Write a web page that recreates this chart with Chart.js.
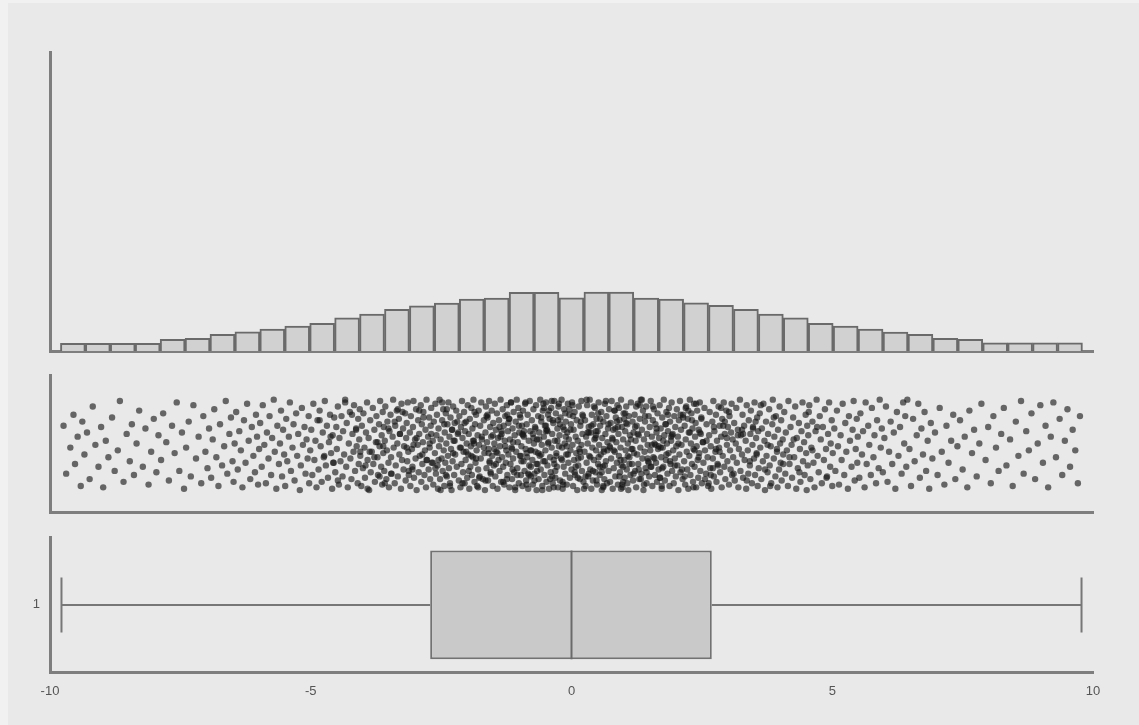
<!DOCTYPE html>
<html>
<head>
<meta charset="utf-8">
<script src="https://cdn.jsdelivr.net/npm/chart.js@4/dist/chart.umd.min.js"></script>
<style>
  body { margin: 0; background: #f1f1f1; }
  #frame { position: absolute; left: 8px; top: 3px; width: 1131px; height: 722px; background: #e9e9e9; }
  canvas { position: absolute; left: 0; }
</style>
</head>
<body>
<div id="frame"></div>
<canvas id="hist" width="1139" height="360" style="top:0"></canvas>
<canvas id="strip" width="1139" height="160" style="top:360px"></canvas>
<canvas id="box" width="1139" height="205" style="top:520px"></canvas>
<script>
// histogram: 41 bins from -9.8, width 0.478
const binStart = -9.8;
const binWidth = 0.478;
const binCounts = [31, 31, 31, 31, 47, 51, 67, 77, 88, 100, 111, 133, 148, 167, 181, 192, 208, 212, 235, 235,
    213,
    236, 236, 212, 208, 193, 183, 167, 148, 133, 111, 100, 88, 76, 67, 51, 47, 33, 33, 33, 33];

// box plot stats
const boxLabels = ['1'];
const whiskerLow = -9.78;
const q1 = -2.71;
const median = 0;
const q3 = 2.69;
const whiskerHigh = 9.78;

const xTicks = [-10, -5, 0, 5, 10];

// strip plot points: [value, jitter %]
const stripPoints = [
[-9.74,63],[-9.69,28],[-9.61,47],[-9.55,71],[-9.52,35],[-9.47,55],[-9.41,19],[-9.38,66],[-9.34,42],
[-9.29,58],[-9.24,24],[-9.18,77],[-9.13,49],[-9.07,33],[-9.02,62],[-8.98,18],[-8.93,52],[-8.88,40],
[-8.81,69],[-8.76,30],[-8.70,45],[-8.66,81],[-8.59,22],[-8.53,57],[-8.47,37],[-8.43,64],[-8.39,27],
[-8.34,50],[-8.29,74],[-8.22,33],[-8.17,61],[-8.11,20],[-8.06,44],[-8.01,68],[-7.96,29],[-7.92,56],
[-7.87,38],[-7.83,72],[-7.77,51],[-7.72,23],[-7.66,63],[-7.61,43],[-7.57,80],[-7.52,30],[-7.47,58],[-7.43,17],
[-7.39,47],[-7.34,66],[-7.30,26],[-7.25,78],[-7.20,39],[-7.15,55],[-7.10,21],[-7.06,70],[-7.02,44],[-6.98,32],[-6.95,61],
[-6.91,25],[-6.88,53],[-6.85,75],[-6.81,40],[-6.77,19],[-6.74,64],[-6.70,34],[-6.66,48],[-6.63,81],[-6.60,28],[-6.56,57],[-6.53,69],[-6.50,37],[-6.48,22],[-6.46,50],
[-6.43,73],[-6.40,31],[-6.37,59],[-6.34,45],[-6.31,18],[-6.28,67],[-6.25,36],[-6.22,79],[-6.19,52],[-6.16,24],[-6.13,62],[-6.10,41],[-6.07,29],[-6.05,71],[-6.03,55],[-6.01,20],[-5.99,46],
[-5.97,65],[-5.94,33],[-5.92,78],[-5.89,49],[-5.86,21],[-5.84,58],[-5.81,39],[-5.79,70],[-5.76,27],[-5.74,54],[-5.71,82],[-5.69,44],[-5.66,17],[-5.64,63],[-5.61,35],[-5.59,50],[-5.57,74],[-5.55,26],[-5.53,60],[-5.51,42],
[-5.49,19],[-5.47,68],[-5.45,37],[-5.42,55],[-5.40,80],[-5.38,30],[-5.35,47],[-5.33,64],[-5.31,23],[-5.28,72],[-5.26,41],[-5.24,57],[-5.21,16],[-5.19,34],[-5.17,76],[-5.15,49],[-5.12,62],[-5.10,28],[-5.08,53],[-5.06,39],[-5.04,70],[-5.03,21],
[-5.01,45],[-4.99,60],[-4.97,27],[-4.95,79],[-4.93,38],[-4.91,52],[-4.89,18],[-4.87,67],[-4.85,31],[-4.83,74],[-4.81,48],[-4.79,22],[-4.77,58],[-4.75,40],[-4.73,81],[-4.71,34],[-4.69,63],[-4.67,25],[-4.65,51],[-4.63,71],[-4.61,43],[-4.59,17],[-4.58,56],[-4.56,36],[-4.55,69],
[-4.53,29],[-4.51,62],[-4.50,46],[-4.48,77],[-4.46,20],[-4.45,54],[-4.43,37],[-4.41,70],[-4.39,26],[-4.38,59],[-4.36,42],[-4.34,82],[-4.32,33],[-4.31,65],[-4.29,18],[-4.27,50],[-4.25,73],[-4.24,39],[-4.22,24],[-4.20,57],[-4.18,44],[-4.17,78],[-4.15,30],[-4.13,61],[-4.12,48],[-4.10,21],[-4.09,68],[-4.08,35],[-4.07,53],[-4.06,75],
[-4.05,41],[-4.03,19],[-4.02,63],[-4.00,32],[-3.99,72],[-3.97,47],[-3.96,25],[-3.94,58],[-3.92,80],[-3.91,38],[-3.89,54],[-3.88,16],[-3.86,67],[-3.85,29],[-3.83,44],[-3.81,76],[-3.80,35],[-3.78,60],[-3.77,22],[-3.75,51],[-3.74,70],[-3.72,40],[-3.71,27],[-3.69,64],[-3.68,48],[-3.67,81],[-3.65,33],[-3.64,56],[-3.63,20],[-3.62,73],[-3.61,43],[-3.60,62],[-3.59,30],
[-3.58,52],[-3.57,77],[-3.55,24],[-3.54,45],[-3.53,66],[-3.51,36],[-3.50,18],[-3.49,59],[-3.47,71],[-3.46,40],[-3.45,28],[-3.43,55],[-3.42,82],[-3.41,47],[-3.39,21],[-3.38,63],[-3.37,34],[-3.35,74],[-3.34,50],[-3.33,26],[-3.31,68],[-3.30,42],[-3.29,57],[-3.27,17],[-3.26,79],[-3.25,38],[-3.23,61],[-3.22,31],[-3.21,48],[-3.19,72],[-3.18,23],[-3.17,54],[-3.16,65],[-3.15,37],[-3.14,80],[-3.13,44],[-3.12,27],
[-3.10,58],[-3.09,19],[-3.08,70],[-3.06,46],[-3.05,33],[-3.04,62],[-3.03,81],[-3.02,25],[-3.00,53],[-2.99,39],[-2.98,75],[-2.97,16],[-2.95,49],[-2.94,67],[-2.93,29],[-2.92,57],[-2.91,41],[-2.89,78],[-2.88,22],[-2.87,64],[-2.86,35],[-2.85,51],[-2.84,73],[-2.82,27],[-2.81,45],[-2.80,60],[-2.79,18],[-2.78,82],[-2.77,38],[-2.75,55],[-2.74,31],[-2.73,69],[-2.72,47],[-2.71,24],[-2.70,63],[-2.69,76],[-2.68,36],[-2.66,52],[-2.65,20],[-2.64,66],
[-2.62,43],[-2.61,79],[-2.60,28],[-2.59,56],[-2.58,71],[-2.57,34],[-2.56,17],[-2.55,61],[-2.54,48],[-2.53,82],[-2.52,24],[-2.51,53],[-2.49,39],[-2.48,67],[-2.47,30],[-2.46,75],[-2.45,45],[-2.44,19],[-2.43,58],[-2.42,36],[-2.41,72],[-2.40,50],[-2.39,26],[-2.38,64],[-2.37,41],[-2.36,80],[-2.35,32],[-2.34,55],[-2.33,21],[-2.32,69],[-2.31,46],[-2.30,16],[-2.29,60],[-2.28,37],[-2.27,77],[-2.26,52],[-2.25,27],[-2.24,65],[-2.23,42],[-2.21,74],[-2.20,33],[-2.18,57],[-2.16,23],
[-2.15,70],[-2.14,47],[-2.13,18],[-2.12,62],[-2.11,35],[-2.10,81],[-2.09,54],[-2.08,29],[-2.07,44],[-2.06,73],[-2.05,21],[-2.04,59],[-2.03,38],[-2.02,66],[-2.01,50],[-2.00,25],[-1.99,78],[-1.98,42],[-1.97,57],[-1.96,17],[-1.95,68],[-1.94,33],[-1.93,48],[-1.92,76],[-1.91,27],[-1.90,61],[-1.89,40],[-1.88,82],[-1.87,52],[-1.86,22],[-1.85,64],[-1.84,36],[-1.83,71],[-1.82,45],[-1.81,19],[-1.80,56],[-1.79,31],[-1.78,74],[-1.77,49],[-1.76,26],[-1.75,63],[-1.74,39],[-1.73,80],[-1.72,53],[-1.70,24],[-1.68,67],
[-1.67,43],[-1.66,16],[-1.65,58],[-1.64,77],[-1.63,32],[-1.62,51],[-1.61,69],[-1.60,23],[-1.59,46],[-1.58,81],[-1.57,37],[-1.56,62],[-1.55,28],[-1.54,55],[-1.53,74],[-1.52,41],[-1.51,19],[-1.50,65],[-1.49,34],[-1.48,50],[-1.47,79],[-1.46,26],[-1.45,60],[-1.44,44],[-1.43,72],[-1.42,17],[-1.41,54],[-1.40,38],[-1.39,67],[-1.38,30],[-1.37,48],[-1.36,82],[-1.35,22],[-1.34,57],[-1.33,40],[-1.32,75],[-1.31,33],[-1.30,63],[-1.29,20],[-1.28,52],[-1.27,70],[-1.26,36],[-1.25,45],[-1.24,78],[-1.23,27],[-1.22,59],[-1.21,42],
[-1.20,68],[-1.19,18],[-1.18,53],[-1.17,35],[-1.16,80],[-1.15,47],[-1.14,24],[-1.13,61],[-1.12,39],[-1.11,73],[-1.10,29],[-1.09,56],[-1.08,16],[-1.07,66],[-1.06,44],[-1.05,82],[-1.04,32],[-1.03,51],[-1.02,76],[-1.01,21],[-1.00,58],[-0.99,41],[-0.98,69],[-0.97,27],[-0.96,48],[-0.95,63],[-0.94,19],[-0.93,74],[-0.92,37],[-0.91,55],[-0.90,30],[-0.89,79],[-0.88,46],[-0.87,23],[-0.86,64],[-0.85,40],[-0.84,71],[-0.83,17],[-0.82,52],[-0.81,34],[-0.80,81],[-0.79,59],[-0.78,26],[-0.77,45],[-0.76,67],[-0.75,38],[-0.74,20],[-0.73,75],[-0.72,50],[-0.94,57],[-1.13,31],[-0.86,43],
[-0.71,28],[-0.70,62],[-0.69,44],[-0.68,78],[-0.67,16],[-0.66,53],[-0.65,35],[-0.64,70],[-0.63,24],[-0.62,58],[-0.61,41],[-0.60,82],[-0.59,31],[-0.58,66],[-0.57,49],[-0.56,19],[-0.55,74],[-0.54,37],[-0.53,55],[-0.52,27],[-0.51,63],[-0.50,45],[-0.49,80],[-0.48,22],[-0.47,60],[-0.46,34],[-0.45,71],[-0.44,51],[-0.43,17],[-0.42,68],[-0.41,40],[-0.40,29],[-0.39,76],[-0.38,47],[-0.37,57],[-0.36,21],[-0.35,65],[-0.34,38],[-0.33,81],[-0.32,52],[-0.31,25],[-0.30,72],[-0.29,43],[-0.28,33],[-0.27,61],[-0.26,18],[-0.25,77],[-0.24,48],[-0.66,30],[-0.49,59],[-0.37,26],[-0.58,42],
[-0.23,56],[-0.22,23],[-0.21,69],[-0.20,39],[-0.19,82],[-0.18,47],[-0.17,17],[-0.16,62],[-0.15,33],[-0.14,75],[-0.13,50],[-0.12,28],[-0.11,66],[-0.10,42],[-0.09,20],[-0.08,58],[-0.07,79],[-0.06,36],[-0.05,53],[-0.04,71],[-0.03,25],[-0.02,45],[-0.01,64],[0.00,31],[0.01,80],[0.02,49],[0.03,19],[0.04,60],[0.05,38],[0.06,73],[0.07,27],[0.08,55],[0.09,43],[0.10,67],[0.11,16],[0.12,52],[0.13,34],[0.14,77],[0.15,46],[0.16,24],[0.17,63],[0.18,40],[0.19,81],[0.20,30],[0.21,57],[0.22,70],[0.23,22],
[0.25,44],[0.26,67],[0.27,19],[0.28,55],[0.29,36],[0.30,78],[0.31,50],[0.32,26],[0.33,62],[0.34,41],[0.35,82],[0.36,31],[0.37,58],[0.38,17],[0.39,71],[0.40,47],[0.41,23],[0.42,64],[0.43,38],[0.44,53],[0.45,76],[0.46,29],[0.47,45],[0.48,68],[0.49,20],[0.50,59],[0.51,35],[0.52,80],[0.53,49],[0.54,27],[0.55,63],[0.56,42],[0.57,73],[0.58,16],[0.59,54],[0.60,33],[0.61,66],[0.62,46],[0.63,24],[0.64,79],[0.65,57],[0.66,37],[0.67,70],[0.68,21],[0.69,51],[0.70,61],[0.71,30],[0.72,75],[0.33,28],[0.47,56],[0.61,18],[0.52,40],
[0.73,48],[0.74,22],[0.75,65],[0.76,39],[0.77,81],[0.78,54],[0.79,17],[0.80,60],[0.81,32],[0.82,74],[0.83,44],[0.84,26],[0.85,69],[0.86,51],[0.87,36],[0.88,78],[0.89,20],[0.90,57],[0.91,41],[0.92,67],[0.93,29],[0.94,47],[0.95,82],[0.96,34],[0.97,62],[0.98,18],[0.99,53],[1.00,72],[1.01,38],[1.02,25],[1.03,59],[1.04,45],[1.05,77],[1.06,31],[1.07,64],[1.08,50],[1.09,16],[1.10,70],[1.11,40],[1.12,56],[1.13,27],[1.14,80],[1.15,46],[1.16,35],[1.17,66],[1.18,23],[1.19,58],[1.20,43],[0.84,61],[0.99,33],[1.07,21],[0.91,76],
[1.21,71],[1.22,30],[1.23,52],[1.24,18],[1.25,63],[1.26,42],[1.27,79],[1.28,35],[1.29,56],[1.30,24],[1.31,68],[1.32,47],[1.33,82],[1.34,28],[1.35,60],[1.36,39],[1.37,74],[1.38,16],[1.39,53],[1.40,44],[1.41,66],[1.42,32],[1.43,77],[1.44,21],[1.45,57],[1.46,49],[1.47,37],[1.48,70],[1.49,26],[1.50,62],[1.51,45],[1.52,81],[1.53,33],[1.54,55],[1.55,19],[1.56,67],[1.57,40],[1.58,75],[1.59,50],[1.60,27],[1.61,64],[1.62,36],[1.63,58],[1.64,22],[1.65,72],[1.66,46],[1.67,31],
[1.68,54],[1.69,78],[1.70,25],[1.71,61],[1.72,40],[1.73,17],[1.74,69],[1.75,47],[1.76,33],[1.77,82],[1.78,56],[1.79,23],[1.80,64],[1.81,38],[1.82,73],[1.83,50],[1.84,28],[1.85,59],[1.86,43],[1.87,76],[1.88,19],[1.89,66],[1.90,35],[1.91,52],[1.92,80],[1.93,30],[1.94,57],[1.95,45],[1.96,21],[1.97,70],[1.98,39],[1.99,62],[2.00,26],[2.01,48],[2.02,75],[2.03,34],[2.04,55],[2.05,16],[2.06,67],[2.07,42],[2.08,81],[2.09,29],[2.10,60],[2.11,49],[2.13,24],[2.14,71],
[2.16,37],[2.17,63],[2.18,20],[2.19,53],[2.20,77],[2.21,44],[2.22,31],[2.23,68],[2.24,17],[2.25,58],[2.26,41],[2.27,82],[2.28,27],[2.29,50],[2.30,72],[2.31,35],[2.32,61],[2.33,22],[2.34,46],[2.35,79],[2.36,33],[2.37,55],[2.38,65],[2.39,18],[2.40,48],[2.41,74],[2.42,38],[2.43,25],[2.44,60],[2.45,43],[2.46,80],[2.47,30],[2.48,57],[2.49,69],[2.50,21],[2.52,51],[2.53,36],[2.55,76],[2.56,45],[2.58,28],[2.59,64],[2.61,40],[2.62,19],
[2.64,56],[2.65,73],[2.66,32],[2.67,48],[2.68,17],[2.70,66],[2.71,39],[2.72,81],[2.73,26],[2.74,59],[2.76,44],[2.77,71],[2.78,22],[2.79,52],[2.80,35],[2.82,77],[2.83,47],[2.84,63],[2.85,29],[2.87,55],[2.88,18],[2.89,68],[2.90,41],[2.92,80],[2.93,33],[2.94,57],[2.95,24],[2.97,74],[2.98,49],[2.99,37],[3.00,62],[3.02,20],[3.03,70],[3.04,45],[3.05,31],[3.06,58],[3.07,79],[3.08,27],[3.09,53],[3.10,40],
[3.12,65],[3.13,23],[3.15,50],[3.16,76],[3.17,36],[3.19,60],[3.20,18],[3.21,46],[3.23,82],[3.24,30],[3.25,56],[3.27,42],[3.28,71],[3.29,25],[3.31,63],[3.32,38],[3.34,52],[3.35,17],[3.36,78],[3.38,45],[3.39,28],[3.40,67],[3.42,34],[3.43,57],[3.44,74],[3.46,21],[3.47,49],[3.48,62],[3.50,39],[3.51,80],[3.52,27],[3.54,54],[3.55,43],[3.56,69],[3.57,19],[3.58,59],[3.59,32],
[3.61,72],[3.62,47],[3.64,24],[3.65,61],[3.67,37],[3.68,79],[3.70,52],[3.71,16],[3.73,66],[3.74,41],[3.76,29],[3.77,57],[3.79,75],[3.80,34],[3.82,48],[3.83,21],[3.85,64],[3.86,82],[3.88,39],[3.89,55],[3.91,26],[3.92,70],[3.94,44],[3.95,18],[3.96,60],[3.98,31],[3.99,77],[4.00,50],[4.01,36],[4.02,67],[4.03,23],[4.05,53],[4.06,42],
[4.08,73],[4.10,28],[4.11,58],[4.13,45],[4.15,19],[4.16,81],[4.18,35],[4.20,62],[4.22,49],[4.23,25],[4.25,69],[4.27,40],[4.29,77],[4.31,17],[4.32,54],[4.34,32],[4.36,65],[4.38,46],[4.39,22],[4.41,59],[4.43,80],[4.44,37],[4.46,51],[4.47,27],[4.49,71],[4.50,43],[4.51,16],[4.52,63],[4.53,34],[4.54,56],
[4.56,78],[4.58,24],[4.60,47],[4.62,66],[4.64,36],[4.66,18],[4.68,59],[4.70,82],[4.72,41],[4.74,29],[4.76,70],[4.78,53],[4.80,21],[4.82,62],[4.84,38],[4.86,75],[4.88,46],[4.90,26],[4.92,57],[4.94,80],[4.96,33],[4.97,50],[4.99,67],[5.00,19],[5.01,43],
[5.04,61],[5.06,30],[5.09,74],[5.11,48],[5.13,20],[5.16,56],[5.18,38],[5.20,79],[5.23,27],[5.25,65],[5.27,44],[5.30,17],[5.32,70],[5.34,52],[5.37,33],[5.39,60],[5.41,81],[5.43,23],[5.45,46],[5.47,68],[5.48,36],[5.49,55],
[5.52,25],[5.54,72],[5.57,42],[5.59,59],[5.62,18],[5.64,80],[5.66,35],[5.69,63],[5.71,49],[5.74,27],[5.76,76],[5.79,40],[5.81,56],[5.84,21],[5.86,67],[5.89,32],[5.91,82],[5.93,47],[5.95,61],[5.97,29],
[6.00,54],[6.03,77],[6.06,22],[6.09,44],[6.12,66],[6.15,35],[6.18,58],[6.21,17],[6.24,73],[6.27,41],[6.30,62],[6.33,28],[6.36,80],[6.38,50],[6.40,70],[6.42,33],[6.44,82],
[6.48,46],[6.51,19],[6.55,68],[6.58,37],[6.62,56],[6.65,79],[6.68,25],[6.71,61],[6.74,42],[6.77,73],[6.80,30],[6.83,52],[6.86,17],[6.89,65],[6.92,39],
[6.97,58],[7.02,27],[7.06,76],[7.10,44],[7.15,20],[7.19,63],[7.23,36],[7.28,52],[7.32,71],[7.36,24],[7.40,48],
[7.45,67],[7.50,31],[7.54,55],[7.59,18],[7.63,74],[7.68,43],[7.72,60],[7.77,26],[7.82,50],[7.86,79],
[7.94,38],[7.99,62],[8.04,21],[8.09,70],[8.14,47],[8.19,30],[8.24,57],[8.29,76],[8.34,34],
[8.41,53],[8.46,19],[8.52,66],[8.57,41],[8.62,81],[8.67,28],[8.72,59],[8.77,45],[8.82,72],
[8.89,24],[8.94,50],[8.99,78],[9.04,36],[9.09,63],[9.14,18],[9.19,55],[9.24,80],[9.29,40],
[9.36,68],[9.41,27],[9.46,52],[9.51,75],[9.56,33],[9.61,60],[9.66,45],[9.71,21],[9.75,70],
[-3.87,44],[-1.23,71],[0.58,29],[2.91,63],[-0.34,18],[1.76,52],[-2.48,80],[3.42,37],[-0.91,59],[0.12,25],
[-1.68,47],[2.24,74],[-3.05,31],[0.87,66],[-0.07,42],[1.39,20],[-2.17,58],[3.76,49],[-1.45,35],[0.43,77],
[-0.62,53],[2.56,24],[-2.84,69],[1.08,41],[-3.51,61],[0.29,82],[-1.04,27],[1.93,56],[-0.18,38],[2.77,46],
[-2.33,19],[0.71,64],[-1.86,73],[3.11,28],[-0.45,50],[1.52,33],[-3.29,57],[0.03,70],[-1.31,22],[2.39,79],
[-0.79,45],[1.22,62],[-2.66,36],[0.95,17],[-0.26,67],[1.67,48],[-1.97,30],[2.98,54],[-0.53,76],[0.36,40],
[-3.68,26],[1.85,71],[-1.12,51],[0.64,34],[-2.05,65],[2.63,21],[-0.11,55],[1.31,78],[-1.59,43],[3.27,60],
[-0.71,23],[0.19,49],[-2.92,74],[1.59,39],[-0.38,81],[2.12,31],[-1.38,62],[0.79,53],[-2.51,16],[1.01,68],
[-0.96,37],[2.46,58],[-1.77,25],[0.51,72],[-3.16,47],[1.44,29],[-0.22,64],[3.55,42],[-1.16,80],[0.08,33],
[-2.24,52],[1.73,19],[-0.58,69],[2.84,44],[-1.51,56],[0.92,26],[-0.04,75],[1.17,46],[-2.78,38],[2.31,67],
[-0.86,20],[0.47,59],[-1.92,41],[3.02,73],[-0.31,30],[1.63,61],[-1.27,48],[0.24,17],[-3.39,66],[2.05,50],
[-0.67,35],[1.35,82],[-2.41,27],[0.69,45],[-0.14,60],[2.71,32],[-1.63,70],[0.99,22],[-2.97,54],[1.89,37],
[-0.49,63],[0.16,44],[-1.08,18],[2.19,76],[-3.78,40],[1.27,57],[-0.83,28],[0.55,68],[-2.12,47],[3.36,23],
[-0.24,79],[1.48,36],[-1.72,55],[0.83,74],[-2.61,32],[2.52,51],[-0.41,24],[1.05,65],[-1.42,43],[0.33,58],
[-0.99,71],[1.98,34],[-2.29,60],[0.61,19],[-0.09,48],[2.94,66],[-1.83,39],[1.14,53],[-3.24,73],[0.41,30],
[-0.74,57],[1.69,25],[-1.19,68],[2.36,45],[-0.56,16],[0.89,62],[-2.72,50],[1.56,77],[-0.29,41],[3.19,56],
[-1.55,29],[0.21,71],[-2.02,44],[1.11,35],[-0.88,80],[2.67,27],[-1.34,59],[0.74,47],[-0.17,22],[1.81,64],
[-2.55,38],[0.46,54],[-3.58,21],[2.14,69],[-0.64,43],[1.29,31],[-1.01,63],[0.02,78],[-1.89,52],[2.44,40],
[-0.36,67],[0.97,20],[-2.39,75],[1.61,49],[-0.78,33],[3.48,61],[-1.48,46],[0.27,26],[-0.12,72],[1.91,55],
[-2.86,42],[0.66,81],[-1.24,24],[2.27,58],[-0.51,37],[1.41,70],[-1.79,18],[0.38,63],[-3.03,49],[2.81,34],
[-0.93,56],[0.13,39],[-2.19,66],[1.19,28],[-0.43,74],[2.59,52],[-1.65,23],[0.81,45],[-0.02,60],[1.74,32],
[-4.62,55],[4.37,29],[-4.21,71],[3.94,46],[-3.95,34],[4.71,62],[-4.48,23],[3.63,78],[-3.72,51],[4.18,40],
[-4.83,67],[3.81,19],[-4.05,44],[4.55,73],[-3.46,28],[3.29,57],[-4.34,80],[4.06,35],[-3.61,48],[4.89,25],
[-4.74,41],[3.53,66],[-3.91,17],[4.26,53],[-4.13,60],[3.71,31],[-3.33,75],[4.62,45],[-4.57,36],[3.88,69],
[-1.14,46],[0.54,33],[-0.69,61],[1.24,77],[-2.09,21],[1.82,42],[-0.27,52],[2.49,68],[-1.57,36],[0.31,58],
[-0.81,27],[1.54,49],[-2.44,64],[0.94,38],[-0.16,20],[2.09,71],[-1.36,55],[0.62,44],[-3.12,30],[2.73,62],
[-0.54,79],[1.33,24],[-1.87,50],[0.18,66],[-0.97,41],[2.34,18],[-2.69,57],[1.03,72],[-0.33,35],[1.71,47],
[-1.21,65],[0.48,23],[-2.27,43],[2.87,76],[-0.73,54],[0.06,29],[-1.61,71],[1.46,39],[-0.46,59],[2.17,26]
];

const axisColor = '#7e7e7e';
const axisBorder = { display: true, color: axisColor, width: 3 };
const fixWidth = (w) => (scale) => { scale.width = w; };
const fixHeight = (h) => (scale) => { scale.height = h; };

function xScale(height, showTicks) {
    return {
        type: 'linear',
        min: -10,
        max: 10,
        offset: false,
        border: axisBorder,
        grid: { display: false, drawTicks: false, offset: false },
        ticks: {
            display: showTicks,
            stepSize: 5,
            padding: 12,
            maxRotation: 0,
            color: '#555',
            font: { family: 'Liberation Sans, Arial, sans-serif', size: 13 },
            callback: (v) => xTicks.includes(v) ? String(v) : ''
        },
        afterFit: fixHeight(height)
    };
}

Chart.defaults.animation = false;
Chart.defaults.plugins.legend.display = false;
Chart.defaults.plugins.tooltip.enabled = false;

const ctxHist = document.getElementById('hist').getContext('2d');
const histChart = new Chart(ctxHist, {
    type: 'bar',
    data: {
        datasets: [{
            data: binCounts.map((c, i) => ({ x: binStart + (i + 0.5) * binWidth, y: c })),
            backgroundColor: '#d1d1d1',
            borderColor: '#6a6a6a',
            borderWidth: 2,
            barPercentage: 1,
            categoryPercentage: 1
        }]
    },
    options: {
        responsive: false,
        layout: { padding: { top: 52, right: 46, left: 0, bottom: 0 } },
        scales: {
            x: xScale(9, false),
            y: {
                min: 0,
                max: 1200,
                border: axisBorder,
                grid: { display: false, drawTicks: false },
                ticks: { display: false },
                afterFit: fixWidth(50)
            }
        }
    }
});

const ctxStrip = document.getElementById('strip').getContext('2d');
const stripChart = new Chart(ctxStrip, {
    type: 'scatter',
    data: {
        datasets: [{
            data: stripPoints.map(([x, y]) => ({ x, y })),
            backgroundColor: 'rgba(20, 20, 20, 0.62)',
            borderWidth: 0,
            pointRadius: 3.2
        }]
    },
    options: {
        responsive: false,
        layout: { padding: { top: 15, right: 46, left: 0, bottom: 0 } },
        scales: {
            x: xScale(8, false),
            y: {
                min: 0,
                max: 100,
                border: axisBorder,
                grid: { display: false, drawTicks: false },
                ticks: { display: false },
                afterFit: fixWidth(50)
            }
        }
    }
});

// whiskers, caps and median line drawn through the chart's scales
const boxExtras = {
    id: 'boxExtras',
    afterDatasetsDraw(chart) {
        const { ctx, scales: { x, y } } = chart;
        const yc = y.getPixelForValue(0);
        const band = y.bottom - y.top;
        const capHalf = band * 0.205;
        const boxHalf = band * 0.405;
        ctx.save();
        ctx.strokeStyle = '#777';
        ctx.lineWidth = 2;
        ctx.beginPath();
        ctx.moveTo(x.getPixelForValue(whiskerLow), yc);
        ctx.lineTo(x.getPixelForValue(q1), yc);
        ctx.moveTo(x.getPixelForValue(q3), yc);
        ctx.lineTo(x.getPixelForValue(whiskerHigh), yc);
        for (const w of [whiskerLow, whiskerHigh]) {
            ctx.moveTo(x.getPixelForValue(w), yc - capHalf);
            ctx.lineTo(x.getPixelForValue(w), yc + capHalf);
        }
        ctx.stroke();
        ctx.strokeStyle = '#6a6a6a';
        ctx.beginPath();
        ctx.moveTo(x.getPixelForValue(median), yc - boxHalf);
        ctx.lineTo(x.getPixelForValue(median), yc + boxHalf);
        ctx.stroke();
        ctx.restore();
    }
};

const ctxBox = document.getElementById('box').getContext('2d');
const boxChart = new Chart(ctxBox, {
    type: 'bar',
    data: {
        labels: boxLabels,
        datasets: [{
            data: [[q1, q3]],
            backgroundColor: '#c9c9c9',
            borderColor: '#727272',
            borderWidth: 2,
            borderSkipped: false,
            barPercentage: 0.81,
            categoryPercentage: 1
        }]
    },
    options: {
        indexAxis: 'y',
        responsive: false,
        layout: { padding: { top: 17, right: 46, left: 0, bottom: 0 } },
        scales: {
            x: xScale(53, true),
            y: {
                border: axisBorder,
                grid: { display: false, drawTicks: false },
                ticks: {
                    padding: 10,
                    color: '#555',
                    font: { family: 'Liberation Sans, Arial, sans-serif', size: 13 }
                },
                afterFit: fixWidth(50)
            }
        }
    },
    plugins: [boxExtras]
});
</script>
</body>
</html>
